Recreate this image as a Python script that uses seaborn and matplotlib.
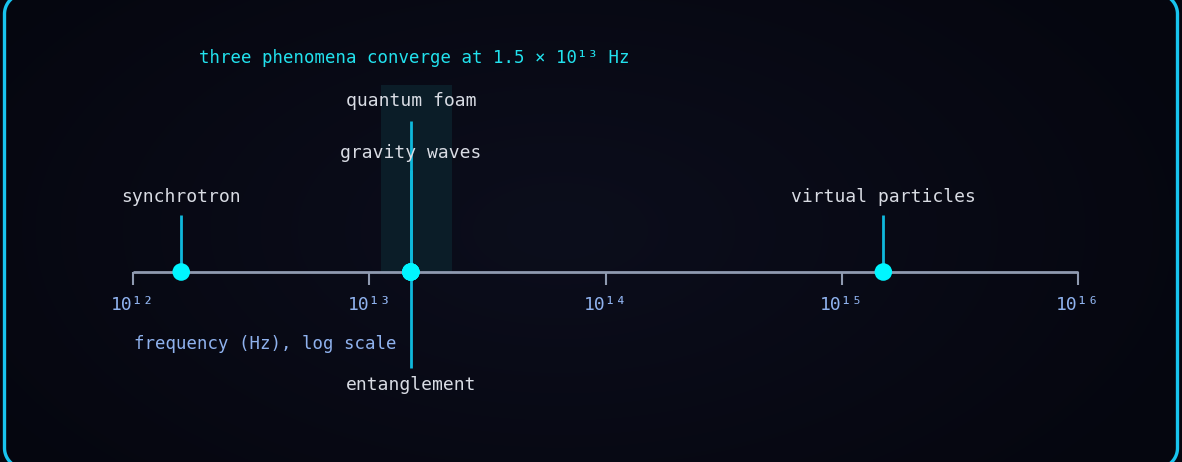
import numpy as np
import pandas as pd
import matplotlib
matplotlib.use("Agg")
import matplotlib.pyplot as plt
import seaborn as sns

# ---- data ----
events = ["synchrotron", "gravity waves", "quantum foam", "entanglement", "virtual particles"]
freqs = [1.6e12, 1.5e13, 1.5e13, 1.5e13, 1.5e15]
sides = ["up", "up", "up", "down", "up"]
tick_values = [1e12, 1e13, 1e14, 1e15, 1e16]
tick_labels = ["10¹²", "10¹³", "10¹⁴", "10¹⁵", "10¹⁶"]
band_range = [1.12e13, 2.24e13]
title_text = "three phenomena converge at 1.5 × 10¹³ Hz"
axis_text = "frequency (Hz), log scale"
converge_freq = 1.5e13

# layout (pixel-like y, 0 = top)
stem_end = [215, 170, 121, 368, 215]
label_y = [197, 153, 101, 385, 197]
axis_y = 272

W, H = 1182, 462
sns.set_theme(style="dark")
plt.rcParams["font.family"] = ["DejaVu Sans Mono", "DejaVu Sans"]

fig = plt.figure(figsize=(W / 100, H / 100), dpi=100)
BG = "#090a16"
fig.patch.set_facecolor(BG)

# background gradient
bgax = fig.add_axes([0, 0, 1, 1])
yy, xx = np.mgrid[0:H, 0:W]
r = np.sqrt(((xx - 560) / 700.0) ** 2 + ((yy - 230) / 380.0) ** 2)
r = np.clip(r, 0, 1)
c0 = np.array([0x0c, 0x0e, 0x1c]) / 255
c1 = np.array([0x05, 0x06, 0x0f]) / 255
img = c0[None, None, :] * (1 - r[..., None]) + c1[None, None, :] * r[..., None]
bgax.imshow(img, extent=[0, W, H, 0], aspect="auto")

# rounded border as a polyline (pixel coordinates, y down)
x0, x1, y0, y1, rad = 4.5, W - 4.5, -6, H + 6, 20
t = np.linspace(0, np.pi / 2, 30)
pts = []
for cx, cy, a0 in [(x1 - rad, y0 + rad, -np.pi / 2), (x1 - rad, y1 - rad, 0),
                   (x0 + rad, y1 - rad, np.pi / 2), (x0 + rad, y0 + rad, np.pi)]:
    ang = a0 + t
    pts.append(np.column_stack([cx + rad * np.cos(ang), cy + rad * np.sin(ang)]))
pts = np.vstack(pts + [pts[0][:1]])
bgax.plot(pts[:, 0], pts[:, 1], color="#18c4ef", lw=2.4, zorder=10, solid_joinstyle="round")
bgax.set_xlim(0, W)
bgax.set_ylim(H, 0)
bgax.set_axis_off()

ax = fig.add_axes([0, 0, 1, 1])
ax.set_facecolor("none")
ax.set_xscale("log")
lo = 12 - 133 / 236.25
hi = 12 + (W - 133) / 236.25

# band
ax.fill_between(band_range, [85, 85], [axis_y, axis_y], color="#0b1d28", lw=0, zorder=1)

# axis line and ticks
ax.plot([tick_values[0], tick_values[-1]], [axis_y, axis_y], color="#8f9ab0", lw=2, zorder=2,
        solid_capstyle="butt")
ax.vlines(tick_values, axis_y, axis_y + 13, color="#8f9ab0", lw=1.5, zorder=2)
for tv, tl in zip(tick_values, tick_labels):
    ax.text(tv, 305, tl, ha="center", va="center", fontsize=13, color="#8fb2ee")

ax.text(10 ** (12 + 1 / 236.25), 344, axis_text, ha="left", va="center", fontsize=12.5,
        color="#8fb2ee")

# stems
df = pd.DataFrame({"event": events, "freq": freqs, "side": sides,
                   "end": stem_end, "label_y": label_y})
ax.vlines(df["freq"], axis_y, df["end"], color="#0fb8dc", lw=2, zorder=3)

# dots
df["y"] = axis_y
sns.scatterplot(data=df, x="freq", y="y", ax=ax, s=160, color="#00f6ff",
                edgecolor="none", zorder=4, legend=False)
ax.set_xlim(10 ** lo, 10 ** hi)
ax.set_ylim(H, 0)
ax.set_axis_off()

for _, row in df.iterrows():
    ax.text(row["freq"], row["label_y"], row["event"], ha="center", va="center",
            fontsize=13, color="#d9dce4", zorder=5)

ax.text(converge_freq * 1.03, 58, title_text, ha="center", va="center", fontsize=12.5,
        color="#22e2ee", zorder=5)

fig.savefig("out.png", dpi=100, facecolor=fig.get_facecolor())
